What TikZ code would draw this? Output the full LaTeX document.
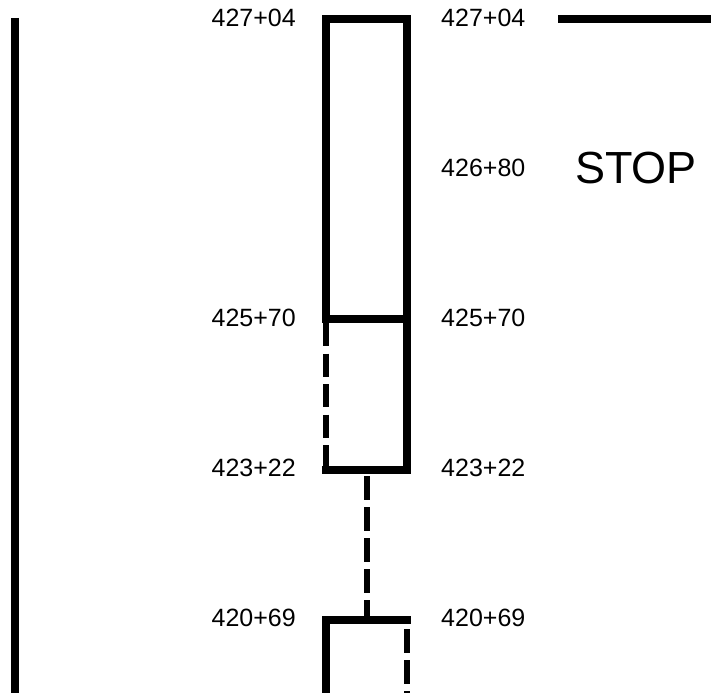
\documentclass[tikz,border=0pt]{standalone}
\usepackage{fontspec}
\setmainfont{Liberation Sans}
\begin{document}
\begin{tikzpicture}[x=1pt,y=-1pt,
  solidline/.style={line width=8pt,black},
  dashline/.style={line width=6pt,black,dash pattern=on 24pt off 7pt},
  lbl/.style={inner sep=0pt,font=\fontsize{25}{25}\selectfont},
  bigtxt/.style={inner sep=0pt,font=\fontsize{45}{45}\selectfont}]
\useasboundingbox (0,0) rectangle (711,693);
% coordinates
\coordinate (L1) at (15,18);
\coordinate (L2) at (15,693);
\coordinate (TR1) at (558,19);
\coordinate (TR2) at (711,19);
\coordinate (A1) at (326,319);
\coordinate (A2) at (326,19);
\coordinate (A3) at (407,19);
\coordinate (A4) at (407,474);
\coordinate (M1) at (322,319);
\coordinate (M2) at (411,319);
\coordinate (D1) at (326,323);
\coordinate (D2) at (326,466);
\coordinate (B1) at (322,470);
\coordinate (B2) at (411,470);
\coordinate (C1) at (367,476);
\coordinate (C2) at (367,616);
\coordinate (E1) at (322,620);
\coordinate (E2) at (411,620);
\coordinate (F1) at (326,616);
\coordinate (F2) at (326,693);
\coordinate (G1) at (407,629);
\coordinate (G2) at (407,693);
% lines
\draw[solidline] (L1) -- (L2);
\draw[solidline] (TR1) -- (TR2);
\draw[solidline,line join=miter] (A1) -- (A2) -- (A3) -- (A4);
\draw[solidline] (M1) -- (M2);
\draw[dashline,dash pattern=on 23pt off 7.5pt] (D1) -- (D2);
\draw[solidline] (B1) -- (B2);
\draw[dashline] (C1) -- (C2);
\draw[solidline] (E1) -- (E2);
\draw[solidline] (F1) -- (F2);
\draw[dashline] (G1) -- (G2);
% labels
\node[lbl,anchor=east] (l1) at (296,17.5) {427+04};
\node[lbl,anchor=west] (r1) at (441,17.5) {427+04};
\node[lbl,anchor=west] (r2) at (441,168) {426+80};
\node[bigtxt,anchor=west] (stop) at (575,168) {STOP};
\node[lbl,anchor=east] (l3) at (296,317.5) {425+70};
\node[lbl,anchor=west] (r3) at (441,317.5) {425+70};
\node[lbl,anchor=east] (l4) at (296,468) {423+22};
\node[lbl,anchor=west] (r4) at (441,468) {423+22};
\node[lbl,anchor=east] (l5) at (296,617.5) {420+69};
\node[lbl,anchor=west] (r5) at (441,617.5) {420+69};
\end{tikzpicture}
\end{document}
